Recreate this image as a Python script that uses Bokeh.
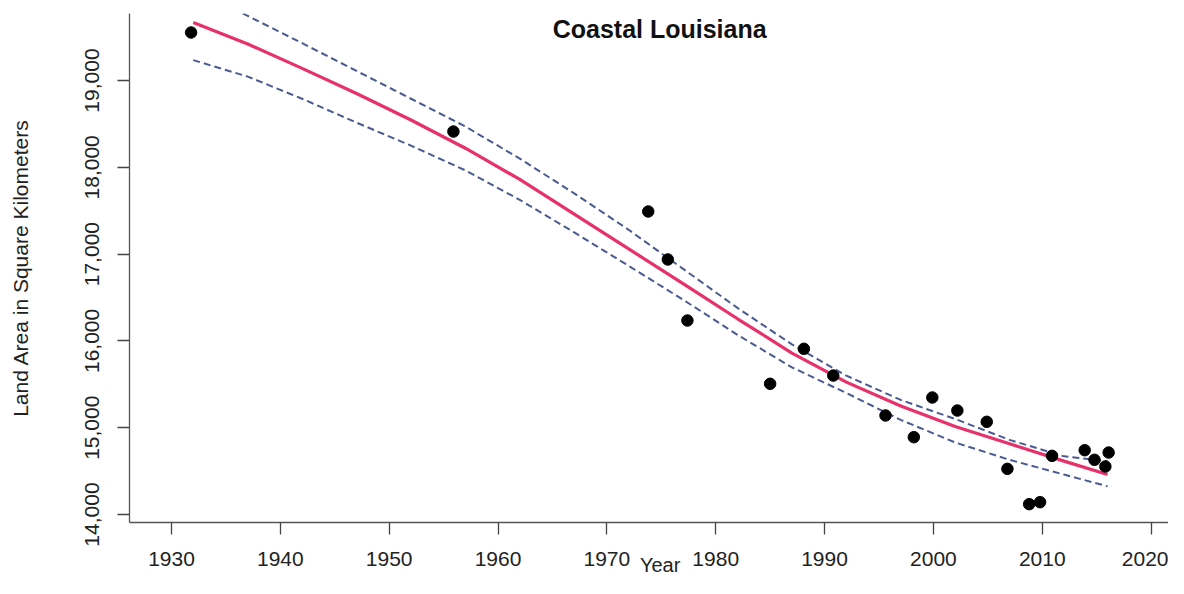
from bokeh.plotting import figure
from bokeh.models import Range1d, FixedTicker, NumeralTickFormatter, Label
from bokeh.embed import file_html
from bokeh.resources import INLINE

# Observed land area (km^2)
obs_years = [1931.8, 1955.9, 1973.8, 1975.6, 1977.4, 1985.0, 1988.1, 1990.8, 1995.6, 1998.2,
             1999.9, 2002.2, 2004.9, 2006.8, 2008.8, 2009.8, 2010.9, 2013.9, 2014.8, 2016.1, 2015.8]
obs_area = [19553, 18412, 17491, 16938, 16235, 15506, 15909, 15601, 15141, 14891,
            15348, 15198, 15068, 14526, 14119, 14142, 14676, 14741, 14630, 14714, 14553]

# Fitted curve and confidence band
fit_years = [1932, 1937, 1942, 1947, 1952, 1957, 1962, 1967, 1972, 1977, 1982, 1987,
             1992, 1997, 2002, 2007, 2012, 2016]
fit_mid = [19668, 19420, 19140, 18850, 18545, 18220, 17860, 17460, 17060, 16660, 16255, 15860,
           15525, 15250, 15015, 14815, 14615, 14461]
fit_upper = [20050, 19745, 19430, 19110, 18790, 18470, 18100, 17700, 17280, 16830, 16380, 15960,
             15600, 15320, 15100, 14860, 14670, 14615]
fit_lower = [19235, 19045, 18790, 18515, 18250, 17965, 17625, 17250, 16865, 16475, 16070, 15695,
             15400, 15090, 14830, 14630, 14460, 14325]

x_ticks = [1930, 1940, 1950, 1960, 1970, 1980, 1990, 2000, 2010, 2020]
y_ticks = [14000, 15000, 16000, 17000, 18000, 19000]

FONT = "Liberation Sans"

p = figure(width=1168, height=578, output_backend="svg", toolbar_location=None,
           x_range=Range1d(1926.14, 2021.6), y_range=Range1d(13908, 19772),
           min_border_left=129, min_border_top=13, min_border_right=0, min_border_bottom=56)
p.outline_line_color = None
p.xgrid.grid_line_color = None
p.ygrid.grid_line_color = None

p.line(fit_years, fit_upper, line_color="#4a5a92", line_width=2, line_dash="7 4")
p.line(fit_years, fit_lower, line_color="#4a5a92", line_width=2, line_dash="7 4")
p.line(fit_years, fit_mid, line_color="#e8306a", line_width=3.2)
p.scatter(obs_years, obs_area, marker="circle", size=11.5, fill_color="black", line_color="black")

for ax in (p.xaxis[0], p.yaxis[0]):
    ax.axis_line_color = "#555555"
    ax.axis_line_width = 1.3
    ax.major_tick_line_color = "#444444"
    ax.major_tick_line_width = 1.3
    ax.major_tick_in = 0
    ax.major_tick_out = 12
    ax.minor_tick_line_color = None
    ax.major_label_text_font = FONT
    ax.major_label_text_font_size = "21px"
    ax.major_label_text_color = "#222222"

p.xaxis.ticker = FixedTicker(ticks=x_ticks)
p.yaxis.ticker = FixedTicker(ticks=y_ticks)
p.yaxis.formatter = NumeralTickFormatter(format="0,0")
p.xaxis.major_label_standoff = 17
p.yaxis.major_label_standoff = 18
p.yaxis.major_label_orientation = "vertical"

p.yaxis.axis_label = "Land Area in Square Kilometers"
p.yaxis.axis_label_text_font = FONT
p.yaxis.axis_label_text_font_style = "normal"
p.yaxis.axis_label_text_font_size = "21px"
p.yaxis.axis_label_text_color = "#222222"
p.yaxis.axis_label_standoff = 51

# non-breaking spaces nudge the centred label right, where the reference has it
p.xaxis.axis_label = "\u00a0\u00a0\u00a0\u00a0Year"
p.xaxis.axis_label_text_font = FONT
p.xaxis.axis_label_text_font_style = "normal"
p.xaxis.axis_label_text_font_size = "20px"
p.xaxis.axis_label_text_color = "#222222"
p.xaxis.axis_label_standoff = -15

p.add_layout(Label(x=1974.85, y=19599, text="Coastal Louisiana", text_align="center",
                   text_baseline="middle", text_font=FONT, text_font_size="25px",
                   text_font_style="bold", text_color="#111111"))

open("out.html", "w").write(file_html(p, INLINE))
